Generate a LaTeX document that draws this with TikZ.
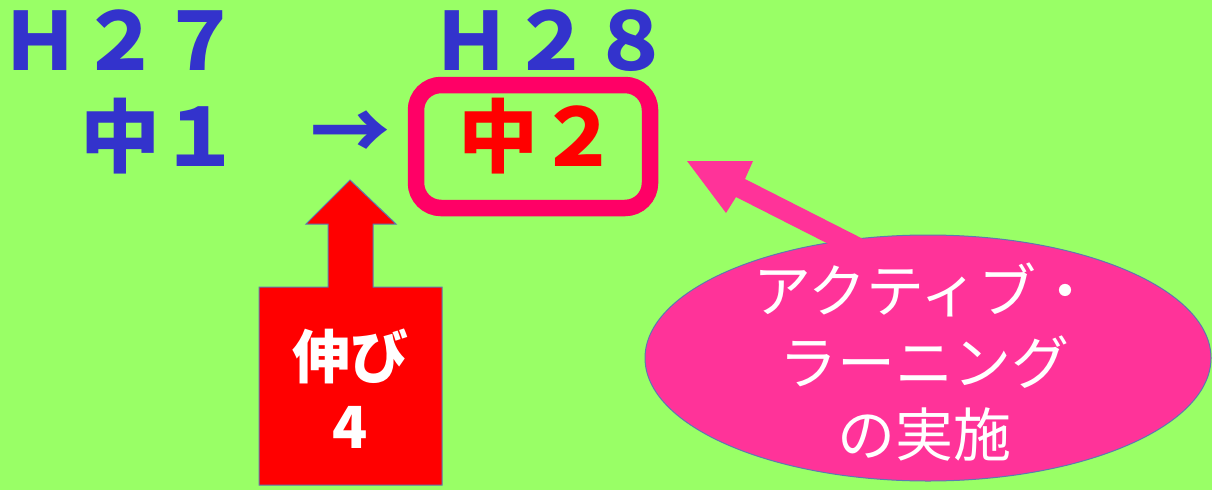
\documentclass[tikz,border=0pt]{standalone}
\usepackage{fontspec}
\usetikzlibrary{shapes.geometric}
\newfontfamily\jp{Noto Sans CJK JP}
\definecolor{bg}{HTML}{99FF66}
\definecolor{tblue}{HTML}{3333CC}
\definecolor{boxpink}{HTML}{FF0066}
\definecolor{pinkf}{HTML}{FF3399}
\definecolor{redf}{HTML}{FF0000}
\definecolor{edge}{HTML}{5B7BB0}
\begin{document}
\begin{tikzpicture}[x=1pt,y=-1pt,
  big/.style={font=\jp\bfseries\fontsize{80}{84}\selectfont, inner sep=0pt, anchor=base},
  mid/.style={font=\jp\bfseries\fontsize{58}{60}\selectfont, text=white, inner sep=0pt, anchor=base},
  ell/.style={font=\jp\fontsize{58}{72}\selectfont, text=white, inner sep=0pt, align=center},
  shapeedge/.style={draw=edge, line width=1pt}]
\useasboundingbox (0,0) rectangle (1212,490);
\fill[bg] (0,0) rectangle (1212,490);
% titles
\node[big, text=tblue] (h27) at (121,70) {Ｈ２７};
\node[big, text=tblue] (h28) at (551,70) {Ｈ２８};
\node[big, text=tblue] (c1) at (160,166) {中１};
\node[big, text=tblue] (arr) at (350,160) {→};
% highlighted box
\node[draw=boxpink, line width=16.5pt, rounded corners=25pt, minimum width=234pt, minimum height=123pt, inner sep=0pt] (box) at (533,146.5) {};
\node[big, text=redf] (c2) at (538,166) {中２};
% red block arrow
\filldraw[fill=redf, shapeedge] (259,485) -- (259,287) -- (328,287) -- (328,224) -- (306,224) -- (350,180) -- (396,224) -- (373,224) -- (373,287) -- (442,287) -- (442,485) -- cycle;
\node[mid] (nobi) at (350,378) {伸び};
\node[mid] (four) at (350,448) {4};
% ellipse
\node[ellipse, fill=pinkf, shapeedge, minimum width=566pt, minimum height=246pt, inner sep=0pt] (al) at (928,358) {};
% pink arrow
\fill[pinkf] (687,161) -- (753,161) -- (745,179) -- (873,244) -- (864,262) -- (736,197) -- (726,213) -- cycle;
\node[ell] (altext) at (924,362) {アクティブ・\\ラーニング\\の実施};
\end{tikzpicture}
\end{document}
